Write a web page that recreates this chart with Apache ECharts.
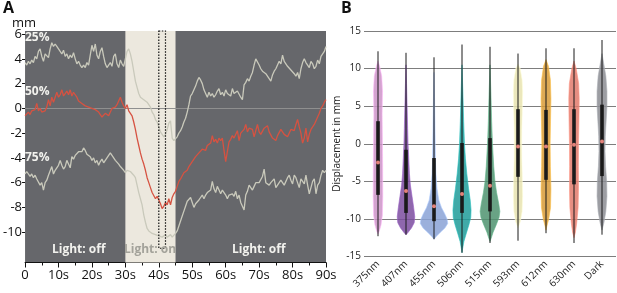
<!DOCTYPE html>
<html>
<head>
<meta charset="utf-8">
<script src="https://cdn.jsdelivr.net/npm/echarts@6/dist/echarts.min.js"></script>
<style>
  html, body { margin: 0; padding: 0; background: #fff; }
  #main { width: 617px; height: 293px; }
</style>
</head>
<body>
<div id="main"></div>
<script>
// ---- panel A: displacement traces, one value every 0.5 s from 0 to 90 s
const step = 0.5
const p25 = [
  3.7, 3.5, 3.8, 3.6, 3.9, 3.7, 4.2, 4.0, 4.6, 4.8, 4.2, 3.8, 4.4, 4.5, 4.1, 4.8, 5.3, 5.0, 5.2, 5.0,
  5.1, 4.6, 4.4, 4.7, 4.2, 4.4, 4.0, 4.3, 4.1, 4.5, 4.0, 3.6, 3.8, 3.5, 3.3, 3.5, 3.3, 3.7, 3.5, 4.3,
  5.1, 4.6, 5.2, 4.3, 4.0, 4.6, 4.9, 4.2, 3.6, 3.3, 3.2, 3.7, 3.4, 4.2, 4.4, 3.6, 3.3, 3.9, 3.6, 3.4,
  3.3, 4.6, 4.8, 4.4, 3.8, 3.0, 2.2, 1.7, 1.2, 0.9, 0.9, 0.7, 0.8, 0.5, 0.3, 0.1, -0.3, -0.5, -0.9, -1.1,
  -1.5, -1.9, -2.1, -2.3, -2.1, -1.7, -1.2, -1.0, -2.4, -2.6, -2.7, -2.3, -2.0, -1.8, -1.5, -1.1, -0.8, -0.3, 0.3, 1.0,
  1.2, 1.5, 1.8, 2.2, 2.5, 2.3, 2.0, 1.5, 1.2, 0.9, 1.3, 1.0, 1.2, 0.9, 1.1, 1.4, 1.6, 1.1, 1.3, 1.0,
  1.5, 1.2, 1.3, 1.0, 1.6, 1.2, 1.1, 1.4, 1.3, 0.9, 0.7, 1.9, 2.1, 2.4, 2.2, 2.6, 2.9, 3.5, 4.0, 4.1,
  3.5, 3.2, 3.0, 3.1, 2.8, 2.6, 2.5, 2.2, 2.7, 3.0, 3.2, 3.5, 3.8, 3.6, 4.3, 3.8, 3.6, 3.4, 3.5, 3.1,
  3.2, 2.8, 2.6, 2.9, 2.4, 3.2, 3.7, 4.0, 3.7, 3.5, 3.3, 3.8, 3.6, 3.2, 3.4, 3.9, 3.6, 4.2, 4.4, 4.6,
  5.0
]
const p50 = [
  -0.6, -0.5, -0.3, -0.5, -0.2, -0.3, -0.1, 0.4, -0.2, 0.0, -0.3, -0.4, -0.2, 0.1, 0.7, 0.2, 0.9, 0.5, 0.6, 1.3,
  0.9, 1.1, 1.5, 1.0, 1.2, 1.4, 1.1, 1.5, 1.0, 1.3, 1.1, 0.9, 0.6, 0.7, 0.4, 0.3, 0.2, 0.3, 0.1, 0.2,
  0.0, 0.1, -0.1, -0.2, -0.3, -0.5, -0.7, -0.6, -0.4, -0.5, -0.6, -0.3, 0.0, -0.1, 0.1, 0.3, 0.6, 0.9, 0.5, 0.2,
  0.0, 0.3, -0.2, -0.1, -0.6, -1.1, -1.7, -2.4, -3.0, -3.6, -4.1, -4.5, -5.0, -5.6, -6.0, -6.4, -6.8, -6.9, -7.3, -7.1,
  -7.4, -7.7, -8.1, -7.9, -7.6, -7.8, -7.3, -7.8, -7.2, -6.9, -6.7, -6.3, -5.9, -5.7, -5.6, -5.2, -5.3, -5.0, -4.7, -4.6,
  -4.3, -4.1, -3.9, -3.8, -3.6, -3.5, -3.3, -3.2, -3.4, -3.0, -2.9, -2.8, -2.2, -2.7, -2.5, -2.8, -2.4, -2.6, -2.4, -3.4,
  -4.3, -3.5, -2.7, -2.5, -2.2, -2.4, -2.3, -1.8, -2.6, -2.0, -2.1, -1.7, -1.3, -1.9, -1.6, -1.5, -1.7, -2.3, -1.8, -1.3,
  -1.9, -2.1, -2.2, -1.6, -1.5, -1.4, -1.9, -1.9, -2.4, -2.5, -2.6, -2.2, -2.1, -1.7, -1.8, -2.1, -2.0, -2.3, -2.2, -1.7,
  -1.6, -1.8, -1.3, -0.9, -1.5, -2.0, -2.8, -2.4, -1.6, -2.7, -2.1, -1.7, -1.6, -1.3, -1.0, -0.7, -0.4, 0.0, 0.2, 0.5,
  0.7
]
const p75 = [
  -5.3, -5.1, -5.2, -5.5, -5.3, -5.6, -5.4, -5.7, -5.6, -6.2, -6.0, -6.6, -6.0, -5.8, -5.4, -5.5, -4.7, -5.3, -5.0, -4.9,
  -4.6, -4.2, -4.6, -4.9, -4.7, -4.2, -4.5, -4.8, -3.9, -4.1, -3.8, -3.7, -3.5, -3.4, -3.5, -3.2, -3.4, -3.7, -3.8, -3.9,
  -4.2, -4.0, -4.4, -4.2, -4.6, -4.3, -4.1, -4.4, -4.3, -4.0, -3.9, -3.6, -3.7, -4.0, -4.2, -4.3, -4.5, -4.7, -4.8, -5.0,
  -5.2, -5.0, -4.9, -5.1, -5.2, -5.4, -5.6, -6.2, -6.8, -7.3, -7.8, -8.6, -9.2, -9.7, -9.9, -10.0, -10.1, -10.0, -10.2, -10.1,
  -10.3, -10.2, -10.4, -10.3, -10.2, -10.4, -10.3, -10.2, -10.4, -10.3, -10.1, -9.9, -9.5, -9.1, -8.7, -8.3, -7.9, -7.5, -7.4, -7.2,
  -7.6, -8.0, -7.7, -7.6, -7.4, -7.2, -7.0, -7.3, -7.0, -6.8, -6.7, -6.6, -5.9, -6.5, -6.8, -6.3, -6.6, -6.9, -6.6, -6.8,
  -7.0, -7.3, -7.0, -7.1, -6.9, -7.1, -6.7, -7.3, -7.0, -7.6, -7.9, -8.2, -7.0, -6.7, -6.2, -6.4, -6.6, -6.3, -6.0, -5.9,
  -6.0, -6.1, -5.5, -4.9, -6.0, -6.1, -6.2, -6.0, -5.9, -5.7, -6.4, -6.2, -6.1, -5.8, -5.9, -6.2, -6.1, -5.6, -5.4, -5.8,
  -6.1, -5.4, -5.6, -6.0, -6.4, -5.7, -5.6, -6.1, -5.4, -6.2, -6.9, -6.4, -5.9, -5.7, -6.9, -6.2, -6.0, -5.4, -5.0, -5.2,
  -5.0
]
const lightOn = [30, 45]
const sampleWindow = [40, 42]
const xTicksA = [0, 10, 20, 30, 40, 50, 60, 70, 80, 90]
const yTicksA = [-10, -8, -6, -4, -2, 0, 2, 4, 6]

// ---- panel B: violins
const categories = ['375nm', '407nm', '455nm', '506nm', '515nm', '593nm', '612nm', '630nm', 'Dark']
const colors = ['#cd94c8', '#7b4c9f', '#8aa2d6', '#1e9b99', '#4f9370', '#e7e3b0', '#d89b37', '#e27a6c', '#8b8c92']
const medians = [-2.5, -6.3, -8.3, -6.7, -5.6, -0.35, -0.35, -0.13, 0.3]
const q1 = [-6.8, -9.2, -10.3, -9.2, -9.0, -4.4, -4.8, -5.4, -4.3]
const q3 = [3.0, -0.8, -1.9, 0.1, 0.75, 4.6, 4.5, 4.6, 5.2]
const whiskerLow = [-12.3, -12.1, -12.7, -14.5, -13.2, -12.9, -11.9, -13.2, -12.1]
const whiskerHigh = [12.3, 12.1, 11.5, 13.2, 12.9, 12.0, 12.7, 12.7, 13.8]
// [value, relative density]
const density = [
  [[11, 0], [10.3, 0.12], [9, 0.27], [7, 0.33], [4, 0.3], [1, 0.32], [-3, 0.34], [-7, 0.35], [-9.5, 0.32], [-10.8, 0.22], [-11.6, 0.1], [-12, 0]],
  [[10.5, 0], [8, 0.04], [5, 0.08], [2, 0.12], [0, 0.15], [-2, 0.2], [-4, 0.25], [-5.5, 0.32], [-7, 0.44], [-8.5, 0.56], [-9.7, 0.64], [-10.5, 0.6], [-11.2, 0.4], [-11.8, 0.15], [-12.1, 0]],
  [[9.5, 0], [6, 0.04], [2, 0.07], [-2, 0.1], [-4, 0.14], [-6, 0.22], [-7.5, 0.35], [-8.5, 0.55], [-9.3, 0.78], [-10, 0.95], [-10.6, 1.0], [-11.2, 0.8], [-11.8, 0.45], [-12.3, 0.18], [-12.7, 0]],
  [[10.5, 0], [7, 0.06], [3, 0.12], [0, 0.18], [-2, 0.25], [-4, 0.35], [-6, 0.48], [-7.5, 0.6], [-8.8, 0.66], [-9.8, 0.64], [-10.8, 0.5], [-12, 0.3], [-13, 0.14], [-14, 0.04], [-14.5, 0]],
  [[10.5, 0], [7, 0.06], [3, 0.12], [0, 0.18], [-3, 0.27], [-5, 0.36], [-6.5, 0.48], [-8, 0.64], [-9, 0.72], [-9.8, 0.66], [-10.8, 0.45], [-11.8, 0.22], [-12.6, 0.08], [-13, 0]],
  [[10.6, 0], [10, 0.16], [8.5, 0.3], [7, 0.34], [5, 0.32], [2, 0.28], [0, 0.27], [-2, 0.28], [-5, 0.32], [-7, 0.34], [-9, 0.3], [-10.3, 0.18], [-11.2, 0]],
  [[11.2, 0], [10.3, 0.18], [8.5, 0.32], [6, 0.36], [3, 0.33], [0, 0.3], [-3, 0.32], [-6, 0.36], [-8.5, 0.33], [-10, 0.2], [-11, 0.06], [-11.5, 0]],
  [[11, 0], [10, 0.16], [8, 0.34], [6, 0.38], [3, 0.36], [0, 0.33], [-3, 0.32], [-6, 0.33], [-8.5, 0.3], [-10.5, 0.2], [-11.8, 0.1], [-12.5, 0]],
  [[12, 0], [10.5, 0.14], [9, 0.28], [7, 0.36], [5, 0.36], [3, 0.3], [1, 0.24], [-1, 0.22], [-3, 0.26], [-5, 0.34], [-7, 0.36], [-9, 0.28], [-10.5, 0.14], [-11.5, 0]]
]

const font = 'Open Sans'
const chart = echarts.init(document.getElementById('main'))

function toPoints(arr) {
  return arr.map((v, i) => [i * step, v])
}

function renderViolin(params, api) {
  const i = api.value(0)
  const band = api.size([1, 0])[0]
  const maxHalf = band * 0.49
  const left = []
  const right = []
  density[i].forEach(([v, w]) => {
    const p = api.coord([i, v])
    left.push([p[0] - w * maxHalf, p[1]])
    right.unshift([p[0] + w * maxHalf, p[1]])
  })
  const top = api.coord([i, whiskerHigh[i]])
  const bot = api.coord([i, whiskerLow[i]])
  const b3 = api.coord([i, q3[i]])
  const b1 = api.coord([i, q1[i]])
  const m = api.coord([i, medians[i]])
  return {
    type: 'group',
    children: [
      {
        type: 'polygon',
        shape: { points: left.concat(right) },
        style: { fill: colors[i], opacity: 0.85, stroke: echarts.color.lift(colors[i], -0.25), lineWidth: 0.7 }
      },
      {
        type: 'line',
        shape: { x1: top[0], y1: top[1], x2: bot[0], y2: bot[1] },
        style: { stroke: '#1a1a1a', lineWidth: 1 }
      },
      {
        type: 'rect',
        shape: { x: b3[0] - 1.8, y: b3[1], width: 3.6, height: b1[1] - b3[1] },
        style: { fill: '#1a1a1a' }
      },
      {
        type: 'circle',
        shape: { cx: m[0], cy: m[1], r: 2 },
        style: { fill: '#e4827a' }
      }
    ]
  }
}

chart.setOption({
  animation: false,
  textStyle: { fontFamily: font },
  grid: [
    { left: 23, right: 291, top: 31, bottom: 30.5, show: true, backgroundColor: '#66676b', borderWidth: 0 },
    { left: 364, right: 1, top: 31, bottom: 36.5 }
  ],
  xAxis: [
    {
      gridIndex: 0, type: 'value', min: 0, max: 90, interval: 10,
      axisLine: { show: true, onZero: false, lineStyle: { color: '#111', width: 1 } },
      axisTick: { show: true, length: 5, lineStyle: { color: '#111' } },
      minorTick: { show: true, splitNumber: 2, length: 3, lineStyle: { color: '#111' } },
      splitLine: { show: false },
      axisLabel: {
        customValues: xTicksA, fontSize: 13, color: '#111', margin: 6,
        formatter: v => v === 0 ? '0' : v + 's'
      }
    },
    {
      gridIndex: 1, type: 'category', data: categories, boundaryGap: true,
      axisLine: { show: false, onZero: false }, axisTick: { show: false },
      axisLabel: { rotate: 45, fontSize: 10, color: '#222', margin: 6, interval: 0 }
    }
  ],
  yAxis: [
    {
      gridIndex: 0, type: 'value', min: -12.45, max: 6.25,
      axisLine: { show: false, onZero: false },
      axisTick: { show: true, customValues: yTicksA, length: 3, lineStyle: { color: '#111' } },
      splitLine: { show: false },
      axisLabel: { customValues: yTicksA, fontSize: 13, color: '#111', margin: 3 }
    },
    {
      gridIndex: 1, type: 'value', min: -15, max: 15, interval: 5,
      name: 'Displacement in mm', nameLocation: 'middle', nameGap: 20,
      nameTextStyle: { fontSize: 10, color: '#222' },
      axisLine: { show: false, onZero: false }, axisTick: { show: false },
      splitLine: { show: true, lineStyle: { color: '#7d7d7d', width: 1.2 } },
      axisLabel: { fontSize: 10, color: '#222', margin: 3 }
    }
  ],
  graphic: [
    { type: 'text', left: 3, top: 0, style: { text: 'A', font: 'bold 16px ' + font, fill: '#111' } },
    { type: 'text', left: 341, top: 0, style: { text: 'B', font: 'bold 16px ' + font, fill: '#111' } },
    { type: 'text', left: 12, top: 17, style: { text: 'mm', font: '13px ' + font, fill: '#111' } },
    { type: 'text', left: 25, top: 32, z: 20, style: { text: '25%', font: 'bold 12px ' + font, fill: '#f2f2ee' } },
    { type: 'text', left: 25, top: 86, z: 20, style: { text: '50%', font: 'bold 12px ' + font, fill: '#f2f2ee' } },
    { type: 'text', left: 25, top: 152, z: 20, style: { text: '75%', font: 'bold 12px ' + font, fill: '#f2f2ee' } },
    { type: 'text', left: 52, top: 244, z: 20, style: { text: 'Light: off', font: 'bold 12px ' + font, fill: '#f2f2ee' } },
    { type: 'text', left: 124, top: 244, z: 20, style: { text: 'Light: on', font: 'bold 12px ' + font, fill: '#a3a29a' } },
    { type: 'text', left: 232, top: 244, z: 20, style: { text: 'Light: off', font: 'bold 12px ' + font, fill: '#f2f2ee' } }
  ],
  series: [
    {
      name: '25%', type: 'line', xAxisIndex: 0, yAxisIndex: 0, data: toPoints(p25),
      showSymbol: false, z: 3, lineStyle: { color: '#c9c9bb', width: 1.3 },
      markArea: {
        silent: true, z: 1,
        itemStyle: { color: '#ece8de' },
        data: [[{ xAxis: lightOn[0] }, { xAxis: lightOn[1] }]]
      },
      markLine: {
        silent: true, symbol: 'none', z: 2, label: { show: false },
        lineStyle: { color: '#8f8f8f', width: 1, type: 'solid' },
        data: [{ yAxis: 0 }]
      }
    },
    {
      name: '50%', type: 'line', xAxisIndex: 0, yAxisIndex: 0, data: toPoints(p50),
      showSymbol: false, z: 4, lineStyle: { color: '#d65241', width: 1.3 }
    },
    {
      name: '75%', type: 'line', xAxisIndex: 0, yAxisIndex: 0, data: toPoints(p75),
      showSymbol: false, z: 3, lineStyle: { color: '#c9c9bb', width: 1.3 },
      markArea: {
        silent: true, z: 6,
        itemStyle: { color: 'rgba(0,0,0,0)', borderColor: '#111', borderWidth: 1.2, borderType: [1.5, 1.5] },
        data: [[{ xAxis: sampleWindow[0], yAxis: 6.25 }, { xAxis: sampleWindow[1], yAxis: -11.3 }]]
      }
    },
    {
      type: 'custom', xAxisIndex: 1, yAxisIndex: 1,
      renderItem: renderViolin,
      data: categories.map((c, i) => [i, medians[i]]),
      z: 5
    }
  ]
})
</script>
</body>
</html>
